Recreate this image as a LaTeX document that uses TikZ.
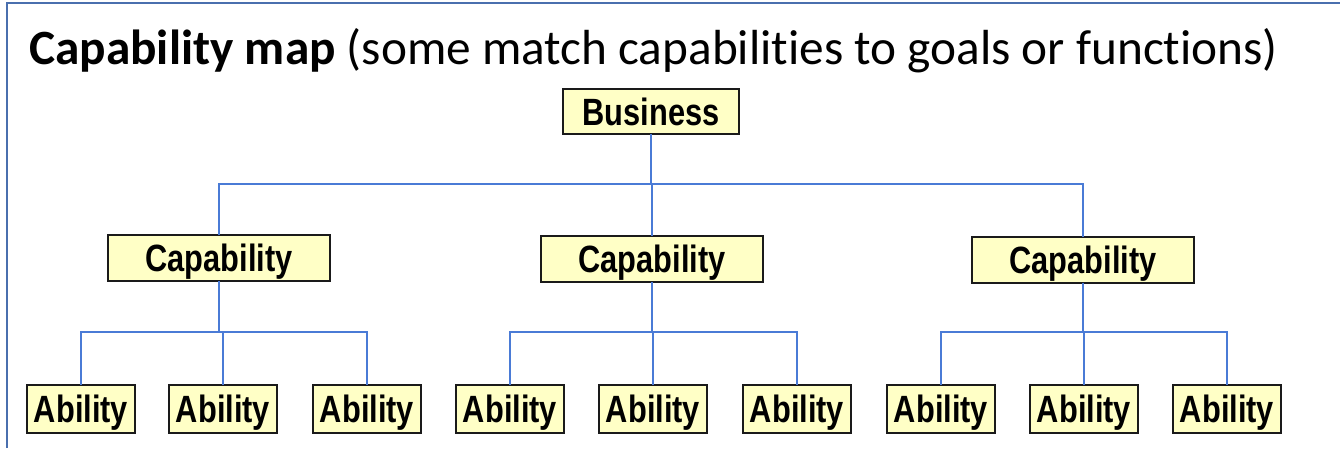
\documentclass[tikz,border=0pt]{standalone}
\usepackage{fontspec}
\setmainfont{Carlito}[Ligatures=CommonOff]
\newfontfamily\arialb{Liberation Sans}[BoldFont={Liberation Sans Bold}]
\definecolor{frameblue}{HTML}{4A6FAE}
\definecolor{linkblue}{HTML}{4A7BD6}
\definecolor{boxfill}{HTML}{FFFFC6}
\definecolor{boxline}{HTML}{1A1A1A}
\newcommand{\boxtext}[1]{\scalebox{0.81}[1]{\arialb\bfseries\fontsize{38}{40}\selectfont #1}}
\tikzset{
  unitbox/.style={draw=boxline, line width=2pt, fill=boxfill, inner sep=0pt, outer sep=0pt, text height=27pt, text depth=0pt},
  busbox/.style={unitbox, minimum width=176pt, minimum height=45pt},
  capbox/.style={unitbox, minimum width=222pt, minimum height=46pt},
  abibox/.style={unitbox, minimum width=108pt, minimum height=48pt},
  link/.style={draw=linkblue, line width=1.4pt},
  framestyle/.style={draw=frameblue, line width=2.6pt}
}
\begin{document}
\begin{tikzpicture}[x=1pt,y=-1pt]
\useasboundingbox (0,0) rectangle (1340,448);
\coordinate (fb) at (7,448);
\coordinate (fc) at (7,3);
\coordinate (fr) at (1340,3);
\draw[framestyle] (fb) -- (fc) -- (fr);
\node[anchor=base west, inner sep=0pt] (title) at (29,64)
  {\fontsize{49.3}{52}\selectfont\textbf{Capability map} (some match capabilities to goals or functions)};

\node[busbox] (bus) at (651,111.5) {\boxtext{Business}};
\node[capbox] (c1) at (219,258) {\boxtext{Capability}};
\node[capbox] (c2) at (652,259) {\boxtext{Capability}};
\node[capbox] (c3) at (1083,259.5) {\boxtext{Capability}};

\foreach \i/\x in {1/81,2/223,3/367,4/510,5/653,6/797,7/941,8/1084,9/1227}{
  \node[abibox] (a\i) at (\x,409) {\boxtext{Ability}};
}

\coordinate (hb) at (652,184);
\draw[link] (bus.south) -- (bus.south |- hb);
\draw[link] (c1.north) |- (hb) -| (c3.north);
\draw[link] (c2.north) -- (c2.north |- hb);

\coordinate (h1) at (219,332);
\coordinate (h2) at (652,332);
\coordinate (h3) at (1083,332);
\draw[link] (c1.south) -- (h1);
\draw[link] (c2.south) -- (h2);
\draw[link] (c3.south) -- (h3);
\draw[link] (a1.north) |- (h1) -| (a3.north);
\draw[link] (a2.north) -- (a2.north |- h1);
\draw[link] (a4.north) |- (h2) -| (a6.north);
\draw[link] (a5.north) -- (a5.north |- h2);
\draw[link] (a7.north) |- (h3) -| (a9.north);
\draw[link] (a8.north) -- (a8.north |- h3);
\end{tikzpicture}
\end{document}
